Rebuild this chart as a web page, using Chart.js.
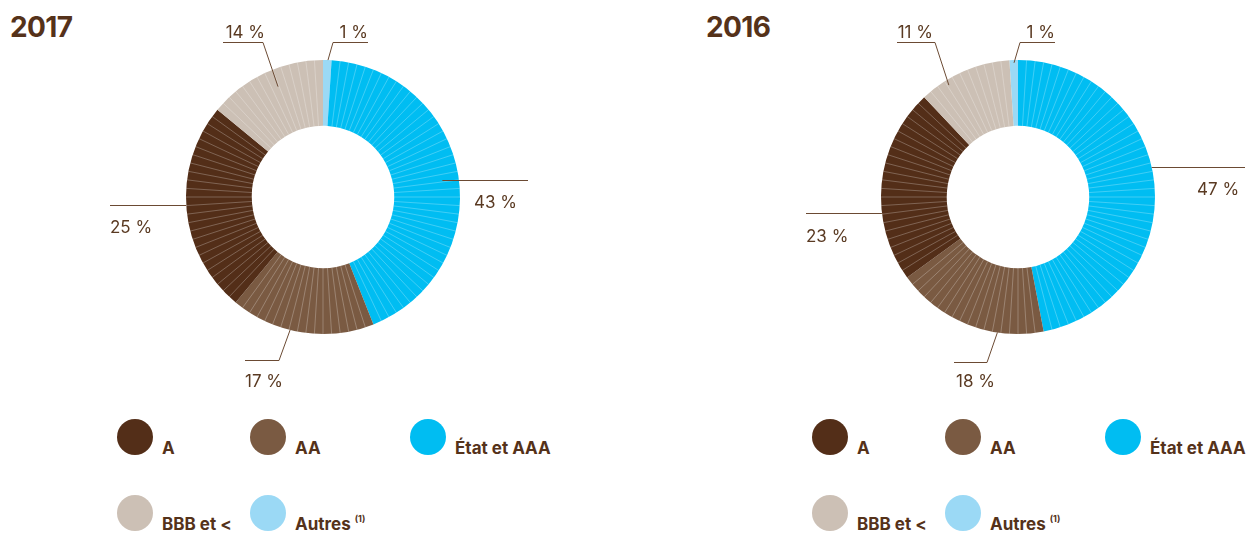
<!DOCTYPE html>
<html lang="fr">
<head>
<meta charset="utf-8">
<title>Répartition par notation</title>
<script src="https://cdn.jsdelivr.net/npm/chart.js@4.4.1/dist/chart.umd.min.js"></script>
<style>
  body { margin: 0; width: 1255px; height: 534px; background: #fff; position: relative; overflow: hidden;
         font-family: Inter, "Open Sans", sans-serif; color: #55321a; }
  canvas { position: absolute; top: 0; }
  .title { position: absolute; top: 13px; font-size: 28px; font-weight: 700; line-height: 1; letter-spacing: -0.6px; }
  .legend { position: absolute; top: 419px; display: grid; grid-template-columns: 133px 160px auto; row-gap: 40px; }
  .item { display: flex; align-items: flex-end; height: 36px; }
  .dot { width: 36px; height: 36px; border-radius: 50%; margin-right: 9px; flex: none; }
  .lbl { font-size: 17px; font-weight: 700; line-height: 1; margin-bottom: -2px; white-space: nowrap; }
  .lbl sup { font-size: 9px; vertical-align: 8px; margin-left: 4px; }
</style>
</head>
<body>
<div class="title" style="left:10px">2017</div>
<div class="title" style="left:706px">2016</div>
<canvas id="chart2017" width="640" height="400" style="left:0"></canvas>
<canvas id="chart2016" width="615" height="400" style="left:640px"></canvas>
<div class="legend" id="legend2017" style="left:117px"></div>
<div class="legend" id="legend2016" style="left:812px"></div>

<script>
// ring order, clockwise from the top
const categories = ["Autres", "État et AAA", "AA", "A", "BBB et <"];
const values2017 = [1, 43, 17, 25, 14];
const values2016 = [1, 47, 18, 23, 11];
const colors = ["#9bd9f5", "#00bdf2", "#7a5a42", "#532e18", "#ccc0b5"];
const legendOrder = ["A", "AA", "État et AAA", "BBB et <", "Autres"];

// leader lines: f = position inside the slice, r = share of the outer radius,
// pts = bend points relative to the centre (null y = stay horizontal), tx/ty = label
const callouts2017 = [
    { f: 0.58, r: 1.0, pts: [[10, -155], [45, -155]], tx: 45, ty: -164, align: "right" },
    { f: 0.506, r: 0.88, pts: [[205, null]], tx: 151, ty: 6, align: "left" },
    { f: 0.58, r: 1.0, pts: [[-44, 163], [-78, 163]], tx: -78, ty: 185, align: "left" },
    { f: 0.523, r: 1.0, pts: [[-213, null]], tx: -213, ty: 31, align: "left" },
    { f: 0.56, r: 0.87, pts: [[-60, -155], [-100, -155]], tx: -58, ty: -164, align: "right" }
];
const callouts2016 = [
    { f: 0.53, r: 0.98, pts: [[2, -155], [37, -155]], tx: 37, ty: -164, align: "right" },
    { f: 0.457, r: 1.0, pts: [[227, null]], tx: 179, ty: -7, align: "left" },
    { f: 0.30, r: 1.0, pts: [[-31, 165], [-64, 165]], tx: -62, ty: 185, align: "left" },
    { f: 0.354, r: 1.0, pts: [[-212, null]], tx: -212, ty: 40, align: "left" },
    { f: 0.29, r: 0.96, pts: [[-83, -155], [-121, -155]], tx: -85, ty: -164, align: "right" }
];

function makeCallouts(items) {
    return {
        id: "callouts",
        afterDatasetsDraw(chart) {
            const ctx = chart.ctx
            const arcs = chart.getDatasetMeta(0).data
            const values = chart.data.datasets[0].data
            ctx.save()

            // fine light strokes at every percent
            ctx.strokeStyle = "rgba(255,255,255,0.32)"
            ctx.lineWidth = 0.8
            arcs.forEach((arc, i) => {
                const step = (arc.endAngle - arc.startAngle) / values[i]
                for (let j = 1; j < values[i]; j++) {
                    const a = arc.startAngle + j * step
                    ctx.beginPath()
                    ctx.moveTo(arc.x + Math.cos(a) * arc.innerRadius, arc.y + Math.sin(a) * arc.innerRadius)
                    ctx.lineTo(arc.x + Math.cos(a) * arc.outerRadius, arc.y + Math.sin(a) * arc.outerRadius)
                    ctx.stroke()
                }
            })

            ctx.strokeStyle = "#6b4a33"
            ctx.lineWidth = 1
            ctx.fillStyle = "#5a3a22"
            ctx.font = "400 17px Inter"
            ctx.textBaseline = "middle"
            items.forEach((c, i) => {
                const arc = arcs[i]
                const a = arc.startAngle + c.f * (arc.endAngle - arc.startAngle)
                const ax = arc.x + Math.cos(a) * arc.outerRadius * c.r
                const ay = arc.y + Math.sin(a) * arc.outerRadius * c.r
                ctx.beginPath()
                if (c.pts[0][1] === null) {
                    const y = Math.round(ay) + 0.5
                    ctx.moveTo(ax, y)
                    ctx.lineTo(arc.x + c.pts[0][0], y)
                } else {
                    ctx.moveTo(ax, ay)
                    c.pts.forEach(([dx, dy]) => ctx.lineTo(arc.x + dx, Math.round(arc.y + dy) + 0.5))
                }
                ctx.stroke()
                ctx.textAlign = c.align
                ctx.fillText(values[i] + " %", arc.x + c.tx, arc.y + c.ty)
            })
            ctx.restore()
        }
    }
}

function drawRing(canvasId, values, rotation, padding, items) {
    new Chart(document.getElementById(canvasId), {
        type: "doughnut",
        data: {
            labels: categories,
            datasets: [{
                data: values,
                backgroundColor: colors,
                borderWidth: 0,
                hoverBorderWidth: 0,
                offset: 0,
                hoverOffset: 0
            }]
        },
        options: {
            responsive: false,
            animation: false,
            events: [],
            cutout: "52%",
            rotation: rotation,
            layout: { padding: padding },
            plugins: {
                legend: { display: false },
                tooltip: { enabled: false }
            }
        },
        plugins: [makeCallouts(items)]
    })
}

drawRing("chart2017", values2017, 0, { left: 186, right: 180, top: 60, bottom: 66 }, callouts2017)
drawRing("chart2016", values2016, -3.6, { left: 241, right: 100, top: 60, bottom: 66 }, callouts2016)

// legends
function buildLegend(id) {
    const box = document.getElementById(id)
    legendOrder.forEach(name => {
        const idx = categories.indexOf(name)
        const item = document.createElement("div")
        item.className = "item"
        const note = name === "Autres" ? "<sup>(1)</sup>" : ""
        item.innerHTML = `<span class="dot" style="background:${colors[idx]}"></span><span class="lbl">${name}${note}</span>`
        box.appendChild(item)
    })
}
buildLegend("legend2017")
buildLegend("legend2016")
</script>
</body>
</html>
